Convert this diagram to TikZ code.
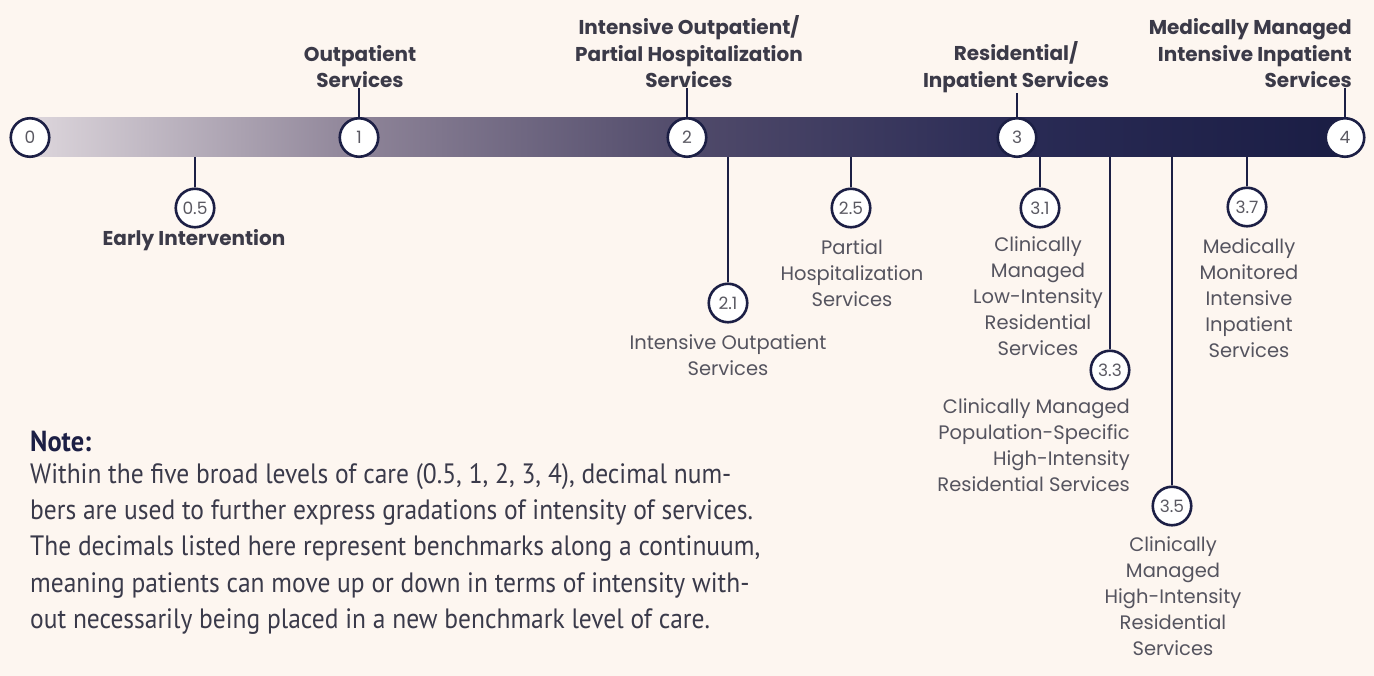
\documentclass[tikz,border=0pt]{standalone}
\usepackage{fontspec}
\setmainfont{Poppins}
\newfontfamily\notefont[FakeStretch=0.91]{PT Sans}
\usetikzlibrary{positioning}
\definecolor{paper}{HTML}{FDF6F0}
\definecolor{navy}{HTML}{1C1F45}
\definecolor{headgray}{HTML}{3B3A48}
\definecolor{subgray}{HTML}{55545F}
\definecolor{numgray}{HTML}{5A5962}
\definecolor{notegray}{HTML}{3A3A4A}
\definecolor{barA}{HTML}{DDD6DC}
\definecolor{barB}{HTML}{8E8498}
\definecolor{barC}{HTML}{504A6A}
\definecolor{barD}{HTML}{2A2B55}
\definecolor{barE}{HTML}{1A1D44}
\pgfdeclarehorizontalshading{levelbar}{100bp}{color(0bp)=(barA); color(25bp)=(barA);
  color(37.5bp)=(barB); color(50bp)=(barC); color(62.5bp)=(barD); color(75bp)=(barE); color(100bp)=(barE)}
\begin{document}
\begin{tikzpicture}[x=1pt,y=-1pt,
    lvl/.style={circle,draw=navy,line width=2.6pt,fill=white,minimum size=38.5pt,inner sep=0pt,
        text=numgray,font=\fontsize{17}{17}\selectfont},
    stem/.style={draw=navy,line width=2.6pt},
    toplab/.style={align=center,inner sep=0pt,text=headgray,font=\bfseries\fontsize{20}{26.5}\selectfont},
    sublab/.style={align=center,inner sep=0pt,text=subgray,font=\fontsize{19.5}{26}\selectfont}]
    %% background
    \fill[paper] (0,0) rectangle (1374,676);
    \useasboundingbox (0,0) rectangle (1374,676);
    %% bar
    \node[shade,shading=levelbar,minimum width=1316pt,minimum height=39pt,inner sep=0pt] (bar) at (688,137.5) {};
    %% headings above the bar
    \node[toplab,anchor=south] (l1) at (360,88) {Outpatient\\Services};
    \node[toplab,anchor=south] (l2) at (689,88) {Intensive Outpatient/\\Partial Hospitalization\\Services};
    \node[toplab,anchor=south] (l3) at (1016,93) {Residential/\\Inpatient Services};
    \node[toplab,anchor=south east,align=right] (l4) at (1352,88) {Medically Managed\\Intensive Inpatient\\Services};
    %% main levels
    \node[lvl] (c0) at (30,137.5) {0};
    \node[lvl] (c1) at (359,137.5) {1};
    \node[lvl] (c2) at (687,137.5) {2};
    \node[lvl] (c3) at (1017,137.5) {3};
    \node[lvl] (c4) at (1345,137.5) {4};
    \draw[stem] (c1.north) -- (c1.north |- l1.south);
    \draw[stem] (c2.north) -- (c2.north |- l2.south);
    \draw[stem] (c3.north) -- (c3.north |- l3.south);
    \draw[stem] (c4.north) -- (c4.north |- l4.south);
    %% sub levels
    \node[lvl] (c05) at (195,208) {0.5};
    \node[lvl] (c21) at (728,303) {2.1};
    \node[lvl] (c25) at (851,208) {2.5};
    \node[lvl] (c31) at (1040,208) {3.1};
    \node[lvl] (c33) at (1110,370) {3.3};
    \node[lvl] (c35) at (1172,506) {3.5};
    \node[lvl] (c37) at (1247,207) {3.7};
    \foreach \c in {c05,c21,c25,c31,c33,c35,c37}
        \draw[stem] (\c.north) -- (\c.north |- bar.south);
    %% sub level texts
    \node[toplab,anchor=north] (l05) at (194,229) {Early Intervention};
    \node[sublab,anchor=north] (l21) at (728,334) {Intensive Outpatient\\Services};
    \node[sublab,anchor=north] (l25) at (852,239) {Partial\\Hospitalization\\Services};
    \node[sublab,anchor=north] (l31) at (1038,236) {Clinically\\Managed\\Low-Intensity\\Residential\\Services};
    \node[sublab,anchor=north east,align=right] (l33) at (1130,398) {Clinically Managed\\Population-Specific\\High-Intensity\\Residential Services};
    \node[sublab,anchor=north] (l35) at (1173,536) {Clinically\\Managed\\High-Intensity\\Residential\\Services};
    \node[sublab,anchor=north] (l37) at (1249,238) {Medically\\Monitored\\Intensive\\Inpatient\\Services};
    %% note
    \node[anchor=west,inner sep=0pt,text=navy,font=\notefont\bfseries\fontsize{29}{29}\selectfont] (note) at (30,441) {Note:};
    \node[anchor=north west,inner sep=0pt,align=left,text=notegray,font=\notefont\fontsize{28}{36.3}\selectfont] (notetext) at (30,463)
        {Within the five broad levels of care (0.5, 1, 2, 3, 4), decimal num-\\
         bers are used to further express gradations of intensity of services.\\
         The decimals listed here represent benchmarks along a continuum,\\
         meaning patients can move up or down in terms of intensity with-\\
         out necessarily being placed in a new benchmark level of care.};
\end{tikzpicture}
\end{document}
